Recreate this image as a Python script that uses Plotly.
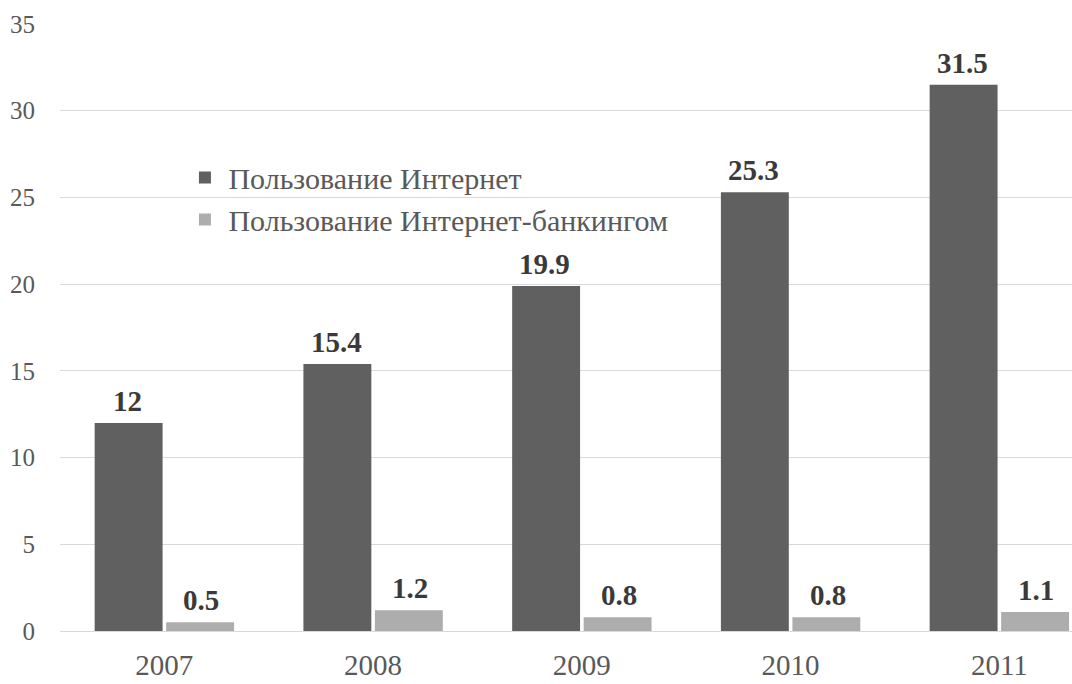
import plotly.graph_objects as go

years = ["2007", "2008", "2009", "2010", "2011"]
internet = [12, 15.4, 19.9, 25.3, 31.5]
banking = [0.5, 1.2, 0.8, 0.8, 1.1]
name_internet = "Пользование Интернет"
name_banking = "Пользование Интернет-банкингом"

FONT = "Liberation Serif"
LABEL_FONT = dict(family=FONT, size=29, color="#3a3a3a")

fig = go.Figure()
fig.add_trace(go.Bar(
    x=years, y=internet, name=name_internet,
    marker=dict(color="#606060", line=dict(width=0)),
))
fig.add_trace(go.Bar(
    x=years, y=banking, name=name_banking,
    marker=dict(color="#adadad", line=dict(width=0)),
))

# value labels above bars
for i, v in enumerate(internet):
    fig.add_annotation(x=i, y=v, xref="x", yref="y", text=f"<b>{v:g}</b>",
                       showarrow=False, xshift=-37, yshift=22, font=LABEL_FONT)
for i, v in enumerate(banking):
    fig.add_annotation(x=i, y=v, xref="x", yref="y", text=f"<b>{v:g}</b>",
                       showarrow=False, xshift=37, yshift=22, font=LABEL_FONT)

fig.update_layout(
    width=1072, height=684,
    margin=dict(l=60, r=0, t=24, b=53),
    paper_bgcolor="white", plot_bgcolor="white",
    barmode="group", bargap=0.315, bargroupgap=0.05,
    font=dict(family=FONT, color="#595959"),
    showlegend=True,
    legend=dict(
        x=0.12, y=0.79, xanchor="left", yanchor="top",
        bgcolor="rgba(0,0,0,0)",
        font=dict(family=FONT, size=30, color="#595959"),
        itemwidth=37, tracegroupgap=2,
    ),
    xaxis=dict(
        type="category",
        range=[-0.5, 4.348], showgrid=False,
        showline=True, linecolor="#d9d9d9", linewidth=1,
        tickfont=dict(family=FONT, size=29, color="#595959"),
        ticks="", ticklabelstandoff=8,
    ),
    yaxis=dict(
        range=[0, 35], dtick=5, showgrid=True, gridcolor="#d9d9d9", gridwidth=1,
        zeroline=False, showline=False,
        tickfont=dict(family=FONT, size=25, color="#595959"),
        ticks="", ticklabelstandoff=24,
    ),
)

fig.write_html("out.html", config={"displayModeBar": False},
               post_script="document.body.style.margin='0';")
